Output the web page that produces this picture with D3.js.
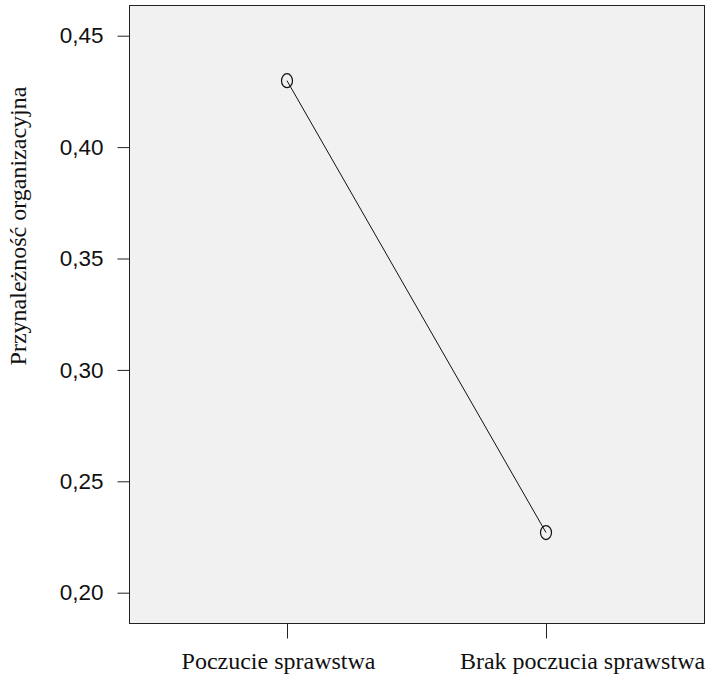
<!DOCTYPE html>
<html>
<head>
<meta charset="utf-8">
<script src="https://cdn.jsdelivr.net/npm/d3@7"></script>
<style>
  body { margin: 0; background: #fff; }
  svg { display: block; }
  .serif { font-family: "Liberation Serif", "DejaVu Serif", serif; }
  .sans { font-family: "Liberation Sans", Arial, sans-serif; }
</style>
</head>
<body>
<div id="chart"></div>
<script>
// data
var categories = ["Poczucie sprawstwa", "Brak poczucia sprawstwa"];
var values = [0.4298, 0.2270];
var yTicks = [0.20, 0.25, 0.30, 0.35, 0.40, 0.45];
var yLabel = "Przynależność organizacyjna";

var width = 708, height = 678;
var box = { left: 129, top: 5, right: 704, bottom: 623 };

var svg = d3.select("#chart").append("svg")
    .attr("width", width)
    .attr("height", height);

var y = d3.scaleLinear()
    .domain([0.20, 0.45])
    .range([592.7, 35.7]);

// x positions of the two categories
var x = d3.scalePoint()
    .domain(categories)
    .range([287, 546]);

// plot background
svg.append("rect")
    .attr("x", box.left + 0.5)
    .attr("y", box.top + 0.5)
    .attr("width", box.right - box.left)
    .attr("height", box.bottom - box.top)
    .style("fill", "#f1f1f1")
    .style("stroke", "#222")
    .style("stroke-width", 1);

// y axis
var yAxis = d3.axisLeft(y)
    .tickValues(yTicks)
    .tickSize(12)
    .tickPadding(14)
    .tickFormat(function(d) { return d3.format(".2f")(d).replace(".", ","); });

var gy = svg.append("g")
    .attr("transform", "translate(" + (box.left + 0.5) + ",0)")
    .call(yAxis)
    .attr("font-family", null)
    .attr("font-size", null);
gy.select(".domain").remove();
gy.selectAll("line").style("stroke", "#222");
gy.selectAll("text")
    .attr("class", "sans")
    .style("font-size", "22.5px")
    .style("fill", "#111");

// x axis
var xAxis = d3.axisBottom(x)
    .tickSize(15)
    .tickPadding(13)
    .tickFormat(function(d) { return d; });

var gx = svg.append("g")
    .attr("transform", "translate(0," + (box.bottom + 0.5) + ")")
    .call(xAxis)
    .attr("font-family", null)
    .attr("font-size", null);
gx.select(".domain").remove();
gx.selectAll("line").style("stroke", "#222");
gx.selectAll("text")
    .attr("class", "serif")
    .style("font-size", "24px")
    .style("fill", "#111");

// the original labels sit a bit off their ticks
var labelShift = [-9, 36];
gx.selectAll("text").attr("x", function(d, i) { return labelShift[i]; });

// y label
svg.append("text")
    .attr("class", "serif")
    .attr("transform", "translate(26," + 226 + ") rotate(-90)")
    .attr("text-anchor", "middle")
    .style("font-size", "24px")
    .style("fill", "#111")
    .text(yLabel);

// line
var line = d3.line()
    .x(function(d, i) { return x(categories[i]); })
    .y(function(d) { return y(d); });

svg.append("path")
    .datum(values)
    .attr("d", line)
    .style("fill", "none")
    .style("stroke", "#111")
    .style("stroke-width", 1);

// markers
svg.selectAll(".pt")
    .data(values)
    .enter().append("ellipse")
    .attr("class", "pt")
    .attr("cx", function(d, i) { return x(categories[i]); })
    .attr("cy", function(d) { return y(d); })
    .attr("rx", 5.5)
    .attr("ry", 7)
    .style("fill", "none")
    .style("stroke", "#111")
    .style("stroke-width", 1.2);
</script>
</body>
</html>
